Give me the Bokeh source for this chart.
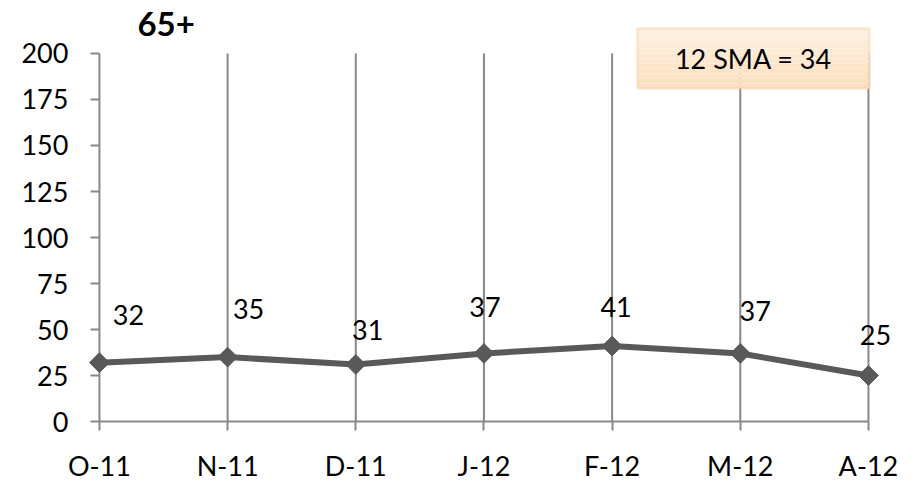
from bokeh.plotting import figure
from bokeh.models import (ColumnDataSource, Range1d, LinearAxis, FixedTicker,
                          Label, BoxAnnotation)
from bokeh.embed import file_html
from bokeh.resources import INLINE
from bokeh.core.properties import value

# Monthly counts for the 65+ group
months = ["O-11", "N-11", "D-11", "J-12", "F-12", "M-12", "A-12"]
counts = [32, 35, 31, 37, 41, 37, 25]
y_ticks = [0, 25, 50, 75, 100, 125, 150, 175, 200]
sma_text = "12 SMA = 34"
title_text = "65+"

# Pixel nudges for the value labels (styling only)
label_dx = [29, 21, 12, 1, 4, 15, 7]
label_dy = [-48, -48, -34, -46, -39, -42, -41]

FONT = "Lato"
LINE = "#595959"
GRID = "#898989"

xs = list(range(len(months)))
y_lo, y_hi = y_ticks[0], y_ticks[-1]
src = ColumnDataSource(dict(x=xs, y=counts, lbl=[str(c) for c in counts],
                            dx=label_dx, dy=label_dy))

p = figure(width=921, height=481, min_border=0,
           x_range=Range1d(-0.772, 6.414), y_range=Range1d(-32.6, 228.8),
           x_axis_type=None, y_axis_type=None,
           output_backend="svg", toolbar_location=None)
p.outline_line_color = None
p.background_fill_color = "white"
p.border_fill_color = "white"

xticker = FixedTicker(ticks=xs)
yticker = FixedTicker(ticks=y_ticks)

# Value axis pinned at the first month
yaxis = LinearAxis(ticker=yticker, fixed_location=0)
yaxis.axis_line_color = None
yaxis.major_tick_line_color = GRID
yaxis.major_tick_line_width = 2
yaxis.major_tick_out = 9
yaxis.major_tick_in = 0
yaxis.minor_tick_line_color = None
yaxis.major_label_standoff = 22
yaxis.major_label_text_font = FONT
yaxis.major_label_text_font_size = "27px"
yaxis.major_label_text_color = "black"
p.add_layout(yaxis, "left")

# Month axis pinned at zero
xaxis = LinearAxis(ticker=xticker, fixed_location=0,
                   major_label_overrides={i: m for i, m in enumerate(months)})
xaxis.axis_line_color = None
xaxis.major_tick_line_color = GRID
xaxis.major_tick_line_width = 2
xaxis.major_tick_out = 9
xaxis.major_tick_in = 0
xaxis.minor_tick_line_color = None
xaxis.major_label_standoff = 18
xaxis.major_label_text_font = FONT
xaxis.major_label_text_font_size = "27px"
xaxis.major_label_text_color = "black"
p.add_layout(xaxis, "below")

# Vertical gridlines spanning the value range (the first doubles as the axis line)
p.segment(x0=xs, y0=[y_lo] * len(xs), x1=xs, y1=[y_hi] * len(xs),
          line_color=GRID, line_width=2)
# Base line along zero
p.segment(x0=[xs[0]], y0=[y_lo], x1=[xs[-1]], y1=[y_lo],
          line_color=GRID, line_width=2)

# Series
p.line("x", "y", source=src, line_color=LINE, line_width=6)
p.scatter("x", "y", source=src, marker="square", angle=0.785398, size=14,
          fill_color=LINE, line_color=LINE)
p.text("x", "y", text="lbl", source=src, x_offset="dx", y_offset="dy",
       text_align="center", text_baseline="middle",
       text_font=value(FONT), text_font_size="27px", text_color="black")

# Moving-average note box with a soft vertical gradient
top_c = (254, 241, 226)
bot_c = (252, 222, 190)
b_left, b_right, b_bottom, b_top = 4.198, 6.008, 181.0, 213.6
bands = 12
for i in range(bands):
    t = (i + 0.5) / bands
    c = tuple(int(round(top_c[k] + (bot_c[k] - top_c[k]) * t)) for k in range(3))
    band_hi = b_top - (b_top - b_bottom) * i / bands
    band_lo = b_top - (b_top - b_bottom) * (i + 1) / bands
    p.add_layout(BoxAnnotation(left=b_left, right=b_right, bottom=band_lo, top=band_hi,
                               fill_color="#%02x%02x%02x" % c, fill_alpha=1.0,
                               line_color=None))
p.add_layout(BoxAnnotation(left=b_left, right=b_right, bottom=b_bottom, top=b_top,
                           fill_alpha=0, line_color="#FAC393", line_width=3))
p.add_layout(Label(x=(b_left + b_right) / 2, y=(b_bottom + b_top) / 2, text=sma_text,
                   text_align="center", text_baseline="middle",
                   text_font=FONT, text_font_size="27px", text_color="black"))

# Chart title
p.add_layout(Label(x=0.52, y=216, text=title_text, text_align="center",
                   text_baseline="middle", text_font=FONT, text_font_size="33px",
                   text_font_style="bold", text_color="black"))

open("out.html", "w").write(file_html(p, INLINE))
